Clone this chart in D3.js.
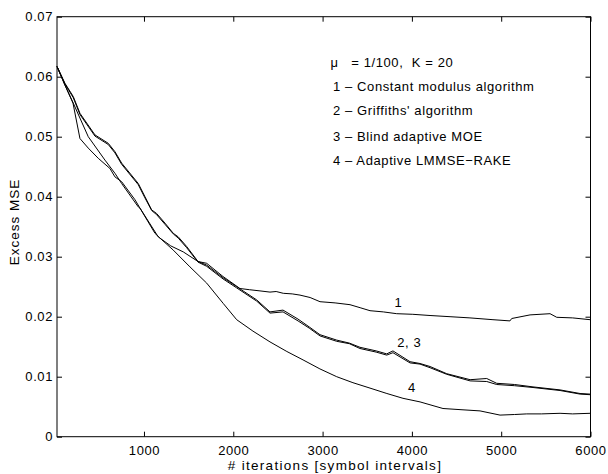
<!DOCTYPE html>
<html>
<head>
<meta charset="utf-8">
<script src="https://cdn.jsdelivr.net/npm/d3@7"></script>
<style>
  html, body { margin: 0; padding: 0; background: #fff; }
  svg { display: block; }
  text { font-family: "Liberation Sans", Arial, Helvetica, sans-serif; fill: #000; }
</style>
</head>
<body>
<svg id="chart" width="608" height="474"></svg>
<script>
// Excess MSE versus iteration count for four adaptive receivers
const xTicks = [1000, 2000, 3000, 4000, 5000, 6000];
const yTicks = [0, 0.01, 0.02, 0.03, 0.04, 0.05, 0.06, 0.07];
const yTickLabels = ["0", "0.01", "0.02", "0.03", "0.04", "0.05", "0.06", "0.07"];

// 1 - Constant modulus algorithm
const cmaIter = [26, 115, 208, 376, 563, 675, 750, 936, 955, 1160, 1300, 1440, 1605, 1702, 1885, 2075, 2180, 2299, 2411, 2480, 2560, 2660, 2747, 2860, 2971, 3140, 3307, 3420, 3531, 3680, 3830, 4010, 4203, 4427, 4650, 4908, 5098, 5118, 5323, 5547, 5622, 5800, 5995];
const cmaMse  = [0.0617, 0.0586, 0.0556, 0.0500, 0.0461, 0.0439, 0.0422, 0.0383, 0.0381, 0.0333, 0.0318, 0.0308, 0.0292, 0.0289, 0.0267, 0.0247, 0.0245, 0.0243, 0.0241, 0.0242, 0.0239, 0.0238, 0.0236, 0.0232, 0.0225, 0.0223, 0.0220, 0.0215, 0.0210, 0.0208, 0.0205, 0.0204, 0.0202, 0.0200, 0.0198, 0.0195, 0.0193, 0.0197, 0.0203, 0.0205, 0.0199, 0.0198, 0.0195];

// 2 - Griffiths' algorithm
const grfIter = [26, 115, 208, 283, 451, 600, 675, 750, 936, 1011, 1086, 1142, 1235, 1328, 1384, 1478, 1605, 1702, 1885, 2038, 2262, 2411, 2557, 2725, 2850, 2971, 3158, 3300, 3419, 3600, 3718, 3788, 3979, 4091, 4203, 4390, 4652, 4838, 4950, 5150, 5356, 5659, 5883, 5995];
const grfMse  = [0.0617, 0.0589, 0.0567, 0.0539, 0.0503, 0.0489, 0.0475, 0.0456, 0.0422, 0.0400, 0.0378, 0.0372, 0.0356, 0.0339, 0.0333, 0.0317, 0.0292, 0.0286, 0.0265, 0.0250, 0.0228, 0.0208, 0.0211, 0.0196, 0.0183, 0.0170, 0.0161, 0.0156, 0.0149, 0.0143, 0.0138, 0.0143, 0.0125, 0.0122, 0.0117, 0.0105, 0.0095, 0.0097, 0.0089, 0.0087, 0.0083, 0.0078, 0.0072, 0.0071];

// 3 - Blind adaptive MOE
const moeIter = [26, 115, 208, 283, 451, 600, 675, 750, 936, 1011, 1086, 1142, 1235, 1328, 1384, 1478, 1605, 1702, 1885, 2038, 2262, 2411, 2557, 2725, 2850, 2971, 3158, 3300, 3419, 3600, 3718, 3788, 3979, 4091, 4203, 4390, 4652, 4838, 4950, 5150, 5356, 5659, 5883, 5995];
const moeMse  = [0.0617, 0.0588, 0.0565, 0.0537, 0.0501, 0.0487, 0.0473, 0.0454, 0.0420, 0.0398, 0.0377, 0.0370, 0.0354, 0.0338, 0.0331, 0.0315, 0.0291, 0.0284, 0.0263, 0.0248, 0.0226, 0.0206, 0.0208, 0.0193, 0.0181, 0.0168, 0.0159, 0.0155, 0.0147, 0.0141, 0.0136, 0.0140, 0.0123, 0.0121, 0.0115, 0.0104, 0.0093, 0.0092, 0.0087, 0.0085, 0.0082, 0.0077, 0.0071, 0.0070];

// 4 - Adaptive LMMSE-RAKE
const rakeIter = [26, 115, 205, 283, 376, 488, 619, 675, 750, 899, 955, 1123, 1179, 1328, 1515, 1702, 1888, 2038, 2220, 2411, 2600, 2781, 2970, 3158, 3340, 3531, 3720, 3900, 4091, 4348, 4550, 4763, 4987, 5150, 5286, 5450, 5659, 5800, 5995];
const rakeMse  = [0.0617, 0.0586, 0.0556, 0.0497, 0.0481, 0.0464, 0.0447, 0.0433, 0.0425, 0.0395, 0.0381, 0.0339, 0.0331, 0.0311, 0.0283, 0.0256, 0.0222, 0.0195, 0.0176, 0.0158, 0.0142, 0.0128, 0.0113, 0.0100, 0.0090, 0.0081, 0.0072, 0.0064, 0.0058, 0.0047, 0.0045, 0.0043, 0.0036, 0.0037, 0.0038, 0.0038, 0.0039, 0.0038, 0.0039];

const legendLines = [
  "\u03bc   = 1/100,  K = 20",
  "1 \u2013 Constant modulus algorithm",
  "2 \u2013 Griffiths' algorithm",
  "3 \u2013 Blind adaptive MOE",
  "4 \u2013 Adaptive LMMSE\u2212RAKE"
];
const curveTags = [
  { text: "1", x: 3850, y: 0.0216 },
  { text: "2, 3", x: 3970, y: 0.0149 },
  { text: "4", x: 4000, y: 0.0075 }
];

const series = [
  { iter: cmaIter, mse: cmaMse },
  { iter: grfIter, mse: grfMse },
  { iter: moeIter, mse: moeMse },
  { iter: rakeIter, mse: rakeMse }
];

const plotLeft = 57, plotRight = 590.5, plotTop = 16.7, plotBottom = 436.7;
const svg = d3.select("#chart");

const x = d3.scaleLinear().domain([26, 6000]).range([plotLeft, plotRight]);
const y = d3.scaleLinear().domain([0, 0.07]).range([plotBottom, plotTop]);

// Axes with inward ticks on all four sides
const fmtY = d => yTickLabels[yTicks.indexOf(d)];
const axL = svg.append("g").attr("transform", `translate(${plotLeft},0)`)
  .call(d3.axisLeft(y).tickValues(yTicks).tickSize(-5).tickPadding(4).tickFormat(fmtY));
const axR = svg.append("g").attr("transform", `translate(${plotRight},0)`)
  .call(d3.axisRight(y).tickValues(yTicks).tickSize(-5).tickFormat(""));
const axB = svg.append("g").attr("transform", `translate(0,${plotBottom})`)
  .call(d3.axisBottom(x).tickValues(xTicks).tickSize(-5).tickPadding(9).tickFormat(d3.format("d")));
const axT = svg.append("g").attr("transform", `translate(0,${plotTop})`)
  .call(d3.axisTop(x).tickValues(xTicks).tickSize(-5).tickFormat(""));

[axL, axR, axB, axT].forEach(g => {
  g.select(".domain").remove();
  g.selectAll("line").attr("stroke", "#000").attr("stroke-width", 1);
  g.selectAll("text")
    .attr("font-size", 13)
    .attr("letter-spacing", 0.6)
    .attr("font-family", null)
    .attr("fill", "#000");
});

svg.append("rect")
  .attr("x", plotLeft).attr("y", plotTop)
  .attr("width", plotRight - plotLeft).attr("height", plotBottom - plotTop)
  .attr("fill", "none").attr("stroke", "#000").attr("stroke-width", 1);

// Curves
const line = d3.line().x(d => x(d[0])).y(d => y(d[1]));
svg.append("g").selectAll("path")
  .data(series)
  .join("path")
  .attr("d", s => line(s.iter.map((v, i) => [v, s.mse[i]])))
  .attr("fill", "none")
  .attr("stroke", "#000")
  .attr("stroke-width", 1)
  .attr("stroke-linejoin", "round");

// Legend block
svg.append("g").selectAll("text")
  .data(legendLines)
  .join("text")
  .attr("x", (d, i) => i === 0 ? 330.5 : 333)
  .attr("y", (d, i) => [66.7, 90.7, 115, 141.2, 165][i])
  .attr("font-size", 13)
  .attr("letter-spacing", 0.6)
  .attr("xml:space", "preserve")
  .style("white-space", "pre")
  .text(d => d);

// Curve tags
svg.append("g").selectAll("text")
  .data(curveTags)
  .join("text")
  .attr("x", d => x(d.x))
  .attr("y", d => y(d.y))
  .attr("text-anchor", "middle")
  .attr("font-size", 13)
  .attr("letter-spacing", 0.6)
  .text(d => d.text);

// Axis titles
svg.append("text")
  .attr("x", 335).attr("y", 469.5)
  .attr("text-anchor", "middle").attr("font-size", 13.5)
  .attr("letter-spacing", 1.3)
  .text("# iterations [symbol intervals]");
svg.append("text")
  .attr("transform", "translate(18.5,222) rotate(-90)")
  .attr("text-anchor", "middle").attr("font-size", 13.5)
  .attr("letter-spacing", 1)
  .text("Excess MSE");
</script>
</body>
</html>
